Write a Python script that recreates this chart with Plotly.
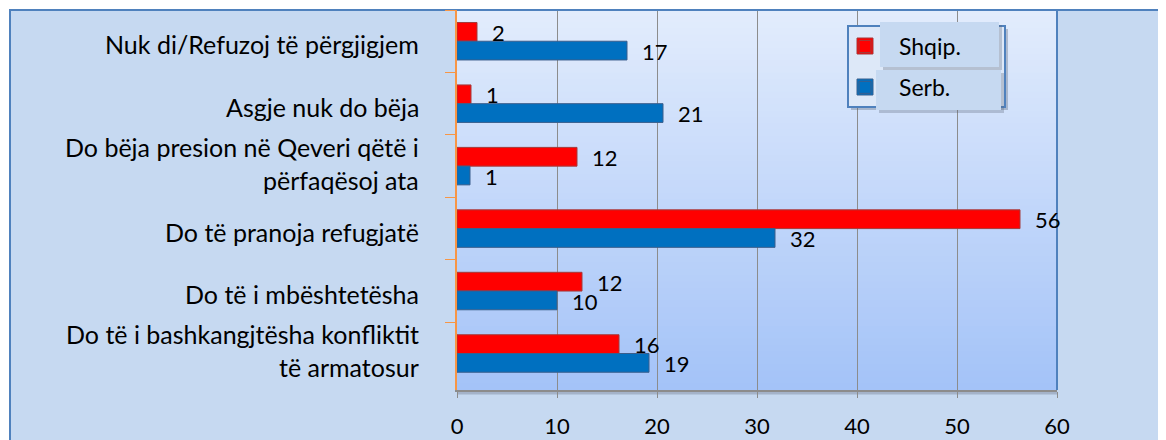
import plotly.graph_objects as go

# Data (categories listed top to bottom as shown)
categories = [
    "Nuk di/Refuzoj të përgjigjem",
    "Asgje nuk do bëja",
    "Do bëja presion në Qeveri qëtë i\npërfaqësoj ata",
    "Do të pranoja refugjatë",
    "Do të i mbështetësha",
    "Do të i bashkangjtësha konfliktit\ntë armatosur",
]
shqip_values = [2.0, 1.4, 12.0, 56.3, 12.5, 16.2]
shqip_labels = ["2", "1", "12", "56", "12", "16"]
serb_values = [17.0, 20.6, 1.3, 31.8, 10.0, 19.2]
serb_labels = ["17", "21", "1", "32", "10", "19"]
x_ticks = [0, 10, 20, 30, 40, 50, 60]

FONT = "Lato"
FS_CAT = 25
FS_NUM = 22
FS_LEG = 23
RED, BLUE = "#FF0000", "#0070C0"

# page body has an 8px margin; figure is sized so the chart lands where the reference has it
OFF = 8
W, H = 1166 - OFF, 440 - OFF
ML, MR, MT, MB = 457 - OFF, 109, 10 - OFF, 50
PW, PH = W - ML - MR, H - MT - MB


def px_x(p):  # reference-page pixel -> paper x
    return (p - OFF - ML) / PW


def px_y(p):  # reference-page pixel -> paper y
    return (H - MB - (p - OFF)) / PH


fig = go.Figure()
fig.add_trace(go.Bar(
    y=categories, x=shqip_values, orientation="h", name="Shqip.",
    marker=dict(color=RED, line=dict(color="#A33B3B", width=1)),
    legendgroup="a", legendrank=1, hoverinfo="x+y",
))
fig.add_trace(go.Bar(
    y=categories, x=serb_values, orientation="h", name="Serb.",
    marker=dict(color=BLUE, line=dict(color="#3A5E8C", width=1)),
    legendgroup="b", legendrank=2, hoverinfo="x+y",
))

annotations = []
# data labels
for cat, v, t in zip(categories, shqip_values, shqip_labels):
    annotations.append(dict(x=v, y=cat, text=t, showarrow=False, xanchor="left",
                            xshift=13, yshift=9, font=dict(family=FONT, size=FS_NUM, color="black")))
for cat, v, t in zip(categories, serb_values, serb_labels):
    annotations.append(dict(x=v, y=cat, text=t, showarrow=False, xanchor="left",
                            xshift=13, yshift=-10, font=dict(family=FONT, size=FS_NUM, color="black")))
# category labels (right aligned, line by line)
for cat in categories:
    lines = cat.split("\n")
    n = len(lines)
    for i, ln in enumerate(lines):
        if n == 1:
            ys = -3
        else:
            ys = 3 + (n - 1) * 16.5 - i * 33
        annotations.append(dict(x=px_x(421), xref="paper", y=cat, yref="y", text=ln,
                                showarrow=False, xanchor="right", yshift=ys,
                                font=dict(family=FONT, size=FS_CAT, color="black")))

shapes = []
# outer chart frame
shapes.append(dict(type="rect", xref="paper", yref="paper",
                   x0=px_x(10), x1=px_x(1190), y0=px_y(470), y1=px_y(10),
                   fillcolor="#C6D9F1", line=dict(color="#4F81BD", width=2), layer="below"))
# plot area gradient
top = (226, 236, 252)
bot = (164, 195, 248)
N = 60
for i in range(N):
    f = i / (N - 1)
    c = tuple(round(top[k] + (bot[k] - top[k]) * f) for k in range(3))
    shapes.append(dict(type="rect", xref="paper", yref="paper", x0=0, x1=1,
                       y0=1 - (i + 1) / N, y1=1 - i / N + 0.002,
                       fillcolor="rgb(%d,%d,%d)" % c, line=dict(width=0), layer="below"))
# right and top border of plot area
shapes.append(dict(type="line", xref="paper", yref="paper", x0=1, x1=1, y0=0, y1=1,
                   line=dict(color="#4F81BD", width=2), layer="above"))
shapes.append(dict(type="line", xref="paper", yref="paper", x0=0, x1=1, y0=1, y1=1,
                   line=dict(color="#4F81BD", width=2), layer="above"))
# shadow under the x axis line
shapes.append(dict(type="line", xref="paper", yref="paper", x0=0, x1=1, y0=px_y(393), y1=px_y(393),
                   line=dict(color="rgba(100,110,130,0.35)", width=3), layer="below"))
# legend box with its shadow
shapes.append(dict(type="rect", xref="paper", yref="paper",
                   x0=px_x(851), x1=px_x(1008), y0=px_y(110), y1=px_y(29),
                   fillcolor="rgba(90,100,120,0.35)", line=dict(width=0), layer="above"))
shapes.append(dict(type="rect", xref="paper", yref="paper",
                   x0=px_x(848), x1=px_x(1005), y0=px_y(107), y1=px_y(26),
                   fillcolor="#DDE8F8", line=dict(color="#4F81BD", width=2), layer="above"))
# the two text boxes lying over the legend
for (x0, x1, y0, y1) in [(880, 999, 22, 67), (876, 1001, 70, 110)]:
    shapes.append(dict(type="rect", xref="paper", yref="paper",
                       x0=px_x(x0 + 3), x1=px_x(x1 + 3), y0=px_y(y1 + 3), y1=px_y(y0 + 3),
                       fillcolor="rgba(90,100,120,0.3)", line=dict(width=0), layer="above"))
    shapes.append(dict(type="rect", xref="paper", yref="paper",
                       x0=px_x(x0), x1=px_x(x1), y0=px_y(y1), y1=px_y(y0),
                       fillcolor="#C6D9F1", line=dict(width=0), layer="above"))
# enlarged legend keys behind plotly's small legend symbols
for (col, edge, yc) in [(RED, "#A33B3B", 46), (BLUE, "#3A5E8C", 87)]:
    shapes.append(dict(type="rect", xref="paper", yref="paper",
                       x0=px_x(857), x1=px_x(873), y0=px_y(yc + 8), y1=px_y(yc - 8),
                       fillcolor=col, line=dict(color=edge, width=1), layer="above"))

fig.update_layout(
    width=W, height=H,
    margin=dict(l=ML, r=MR, t=MT, b=MB, autoexpand=False),
    paper_bgcolor="white",
    plot_bgcolor="rgba(0,0,0,0)",
    barmode="group", bargap=0.4, bargroupgap=0,
    font=dict(family=FONT, size=FS_NUM, color="black"),
    showlegend=True,
    legend=dict(x=px_x(831), y=px_y(25), xanchor="left", yanchor="top",
                bgcolor="rgba(0,0,0,0)", borderwidth=0,
                font=dict(family=FONT, size=FS_LEG, color="black"),
                tracegroupgap=8, itemwidth=58),
    annotations=annotations,
    shapes=shapes,
    xaxis=dict(range=[0, 60], tickvals=x_ticks, showgrid=True, gridcolor="#8C8C8C", gridwidth=1,
               showline=True, linecolor="#8C8C8C", linewidth=2, ticks="outside", ticklen=6,
               tickcolor="#8C8C8C", zeroline=False, ticklabelstandoff=10,
               tickfont=dict(family=FONT, size=FS_NUM, color="black")),
    yaxis=dict(autorange="reversed", type="category", showticklabels=False, showgrid=False,
               showline=True, linecolor="#F79646", linewidth=2, ticks="outside",
               tickson="boundaries", ticklen=10, tickcolor="#F79646", zeroline=False),
)

fig.write_html("out.html")
